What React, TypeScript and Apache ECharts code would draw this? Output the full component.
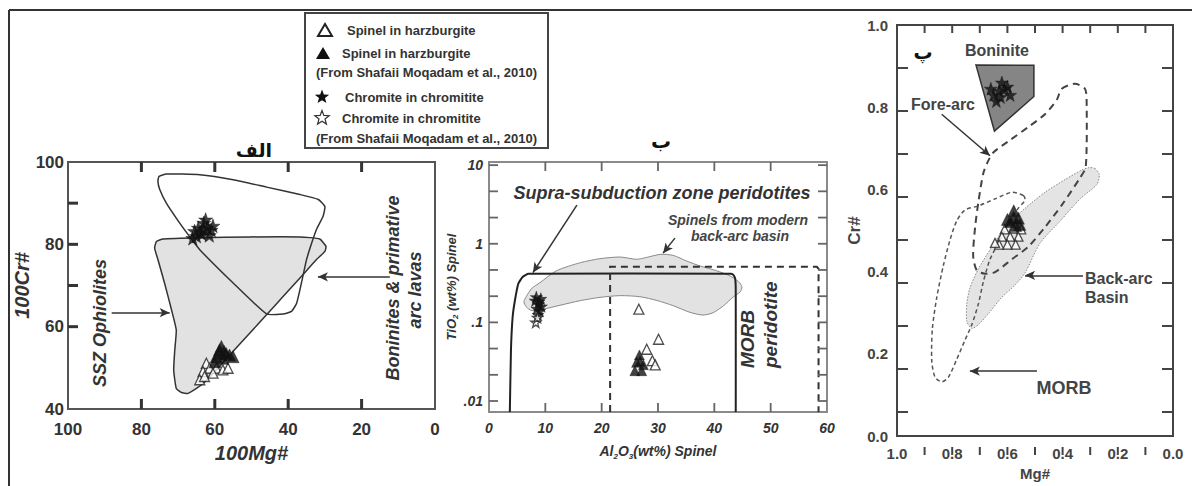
import React, { useEffect, useRef } from "react";
import * as echarts from "echarts";

// ---------- Panel 1 (الف): 100Cr# vs 100Mg# ----------
const P1_SSZ_FIELD = [[75.9,80.7],[74.1,81.3],[64.1,81.6],[50.5,81.8],[36.8,81.8],[31.4,81.3],[29.7,79.5],[30.0,78.3],[32.3,76.3],[36.8,71.8],[41.4,67.3],[45.9,62.9],[50.5,58.4],[55.0,54.0],[59.6,49.5],[63.2,46.2],[65.0,45.0],[67.3,43.8],[69.1,44.0],[70.5,45.0],[71.2,49.5],[70.9,54.4],[70.5,59.2],[71.8,64.1],[73.7,70.6],[75.5,76.3],[76.4,79.1]];
const P1_BONINITE_FIELD = [[75.2,96.5],[73.2,97.1],[64.1,96.9],[55.0,95.7],[45.9,93.9],[36.8,92.1],[31.8,90.9],[30.0,89.2],[30.5,86.8],[32.3,83.6],[33.6,80.3],[35.0,76.3],[36.4,70.6],[37.7,65.7],[39.1,63.7],[41.4,63.1],[45.9,63.1],[55.0,70.6],[64.1,78.7],[66.8,81.8],[69.6,85.2],[73.2,90.0],[75.0,93.3],[75.5,95.3]];
const P1_CHROMITE = [[64,83],[62,84],[65,82],[63,85.2],[61,83.5],[66,81.5],[63.5,82.5],[60.5,84.5],[62.5,86],[64.5,84],[61.5,82.2],[63,83.8],[65.5,83.2]];
const P1_SPINEL_SM = [[58.7,54.4],[56.9,53.5],[59.6,52.7],[57.8,52.3],[56,53.1],[58.2,55.2],[55,52.7],[60,51.5],[57.5,54],[59,53.5]];
const P1_SPINEL = [[62.3,51.1],[61.4,49.9],[63.2,49.1],[59.6,49.9],[57.8,49.5],[60.5,48.7],[64.1,47.1],[62.8,47.9],[56.4,49.9]];
const P1_ARROWS = [[[88.1,63.4],[72.3,63.4]],[[12.3,72.1],[31.9,72.1]]];
const P1_X_TICKS = [80, 60, 40, 20];
const P1_Y_TICKS = [60, 70, 80, 90];

// ---------- Panel 2 (ب): TiO2 vs Al2O3 (log y) ----------
const P2_SSZ_LINE = [[3.7,0.00725],[3.9,0.045],[4.2,0.118],[4.6,0.19],[5.2,0.31],[6.0,0.38],[7.0,0.415],[43.0,0.415],[43.4,0.40],[43.7,0.36],[43.8,0.26],[43.8,0.00725]];
const P2_BACKARC_FIELD = [[6.6,0.212],[7.6,0.271],[9.05,0.32],[12.0,0.454],[16.2,0.574],[19.7,0.646],[23.3,0.678],[26.2,0.634],[28.0,0.671],[30.4,0.733],[32.7,0.711],[35.1,0.602],[37.5,0.521],[40.4,0.454],[42.8,0.389],[44.3,0.329],[44.9,0.284],[44.6,0.245],[43.4,0.212],[41.6,0.162],[39.8,0.133],[38.0,0.124],[35.7,0.134],[32.7,0.163],[29.8,0.19],[26.8,0.212],[23.3,0.219],[19.7,0.208],[16.2,0.189],[12.6,0.165],[9.6,0.147],[7.6,0.141],[6.6,0.158],[6.2,0.183]];
const P2_MORB_BOX = [[21.5,0.00725],[21.5,0.51],[58.2,0.51],[58.5,0.48],[58.5,0.00725]];
const P2_CHROMITE = [[8.2,0.19],[8.8,0.17],[9.2,0.2],[8.5,0.15],[9.0,0.14],[8.4,0.21],[9.3,0.16],[8.7,0.125],[8.9,0.185]];
const P2_CHROMITE_SM = [[8.3,0.1],[8.6,0.115]];
const P2_SPINEL = [[26.6,0.147],[30.1,0.061],[28.0,0.0455],[29.0,0.0326],[29.5,0.0288]];
const P2_SPINEL_SM = [[26.7,0.0385],[26.8,0.032],[27.1,0.0243],[26.2,0.031],[27.4,0.029],[25.9,0.0243]];
const P2_ARROWS = [[[15.6,3.1],[7.8,0.43]],[[33.0,1.18],[30.9,0.76]]];
const P2_X_TICKS = [10, 20, 30, 40, 50];
const P2_LOG_TICKS = [-2, -1.667, -1.333, -1, -0.667, -0.333, 0, 0.333, 0.667, 1];
const P2_LOG_LABELS = [-2, -1, 0, 1];
const P2_LABEL_TEXT: Record<string, string> = { "-2": ".01", "-1": ".1", "0": "1", "1": "10" };

// ---------- Panel 3 (پ): Cr# vs Mg# ----------
const P3_BONINITE_FIELD = [[0.714,0.903],[0.504,0.902],[0.504,0.826],[0.647,0.742]];
const P3_FOREARC_FIELD = [[0.403,0.845],[0.355,0.857],[0.319,0.845],[0.313,0.818],[0.316,0.655],[0.337,0.628],[0.403,0.562],[0.464,0.508],[0.524,0.461],[0.584,0.430],[0.645,0.399],[0.681,0.395],[0.711,0.403],[0.724,0.438],[0.717,0.508],[0.705,0.570],[0.687,0.640],[0.669,0.670],[0.651,0.690],[0.597,0.717],[0.524,0.752],[0.464,0.783],[0.421,0.818]];
const P3_MORB_FIELD = [[0.542,0.585],[0.584,0.593],[0.645,0.577],[0.705,0.560],[0.754,0.550],[0.784,0.523],[0.808,0.477],[0.832,0.415],[0.856,0.337],[0.872,0.260],[0.874,0.182],[0.862,0.143],[0.838,0.132],[0.814,0.143],[0.784,0.186],[0.754,0.233],[0.729,0.271],[0.705,0.322],[0.687,0.376],[0.663,0.430],[0.633,0.469],[0.597,0.516],[0.561,0.554],[0.536,0.574]];
const P3_BACKARC_FIELD = [[0.283,0.651],[0.267,0.636],[0.276,0.612],[0.337,0.577],[0.409,0.523],[0.482,0.469],[0.536,0.397],[0.572,0.368],[0.621,0.337],[0.669,0.298],[0.705,0.271],[0.729,0.262],[0.747,0.279],[0.747,0.322],[0.736,0.360],[0.705,0.407],[0.663,0.453],[0.609,0.508],[0.536,0.554],[0.464,0.593],[0.391,0.624],[0.331,0.647],[0.305,0.653]];
const P3_CHROMITE = [[0.63,0.84],[0.60,0.85],[0.65,0.83],[0.62,0.86],[0.59,0.83],[0.64,0.815],[0.61,0.845],[0.66,0.845],[0.625,0.825]];
const P3_SPINEL_SM = [[0.577,0.548],[0.56,0.53],[0.59,0.522],[0.555,0.515],[0.60,0.527],[0.57,0.512],[0.578,0.532]];
const P3_SPINEL = [[0.55,0.503],[0.58,0.505],[0.61,0.503],[0.56,0.485],[0.59,0.485],[0.62,0.485],[0.57,0.466],[0.60,0.466],[0.63,0.466],[0.645,0.47]];
const P3_ARROWS = [[[0.838,0.783],[0.663,0.682]],[[0.326,0.391],[0.536,0.391]],[[0.493,0.158],[0.736,0.158]]];
const P3_TICKS = [0.1, 0.2, 0.3, 0.4, 0.5, 0.6, 0.7, 0.8, 0.9];

const FONT = "'Liberation Sans', Arial, Helvetica, sans-serif";
const STAR = "path://M50,0 L61.8,35.1 L97.6,34.5 L69,56.2 L79.4,90.5 L50,70 L20.6,90.5 L31,56.2 L2.4,34.5 L38.2,35.1 Z";

const lg = (pts: number[][]) => pts.map(([x, y]) => [x, Math.log10(y)]);

// grid boxes and axis ranges
const GRIDS = [
  { left: 68, top: 162, width: 367, height: 247, x: [0, 100], y: [40, 100], xInv: true, border: "#555" },
  { left: 489, top: 162, width: 338, height: 250, x: [0, 60], y: [-2.14, 1.04], xInv: false, border: "#8a8a8a" },
  { left: 897, top: 25, width: 276, height: 430, x: [0, 1], y: [0, 1], xInv: true, border: "#444" },
];

// tick specs: [gridIndex, values, side, length px, width, color]
const TICK_SPECS: any[] = [
  [0, P1_X_TICKS, "b", 10, 3, "#333"],
  [0, P1_X_TICKS, "t", 10, 3, "#333"],
  [0, P1_Y_TICKS, "l", 10, 3, "#333"],
  [1, P2_X_TICKS, "b", 9, 1.8, "#666"],
  [1, P2_X_TICKS, "t", 9, 1.8, "#666"],
  [1, P2_LOG_TICKS, "l", 9, 1.8, "#666"],
  [1, P2_LOG_TICKS, "r", 9, 1.8, "#666"],
  [2, P3_TICKS, "b", 8, 2, "#444"],
  [2, P3_TICKS, "t", 8, 2, "#444"],
  [2, P3_TICKS, "l", 11, 2, "#444"],
  [2, P3_TICKS, "r", 11, 2, "#444"],
];

function shape(points: number[][], gi: number, o: any) {
  return {
    type: "custom",
    xAxisIndex: gi,
    yAxisIndex: gi,
    z: o.z ?? 1,
    silent: true,
    data: [points[0]],
    renderItem: (_p: any, api: any) => ({
      type: o.closed ? "polygon" : "polyline",
      shape: { points: points.map((p) => api.coord(p)), smooth: o.smooth ?? 0 },
      style: {
        fill: o.fill ?? "none",
        stroke: o.stroke ?? "#333",
        lineWidth: o.lineWidth ?? 1.5,
        lineDash: o.lineDash,
      },
    }),
  };
}

function scatter(data: number[][], gi: number, kind: string, size: number) {
  const filled = kind === "ftri" || kind === "fstar";
  const star = kind === "fstar" || kind === "ostar";
  return {
    type: "scatter",
    xAxisIndex: gi,
    yAxisIndex: gi,
    z: 5,
    silent: true,
    symbol: star ? STAR : "triangle",
    symbolSize: size,
    data,
    itemStyle: filled
      ? { color: "#111", borderColor: "#111", borderWidth: 0.5 }
      : { color: "#fff", borderColor: "#222", borderWidth: 1.3 },
  };
}

function arrows(lines: number[][][], gi: number) {
  return {
    type: "scatter",
    xAxisIndex: gi,
    yAxisIndex: gi,
    data: [],
    z: 6,
    markLine: {
      silent: true,
      symbol: ["none", "arrow"],
      symbolSize: [7, 10],
      label: { show: false },
      lineStyle: { color: "#333", width: 1.5, type: "solid" },
      data: lines.map(([a, b]) => [{ coord: a }, { coord: b }]),
    },
  };
}

// pixel position of an axis value along a grid (linear axis, same mapping as the axes above)
function axisPx(g: any, dim: "x" | "y", v: number) {
  const r = dim === "x" ? g.x : g.y;
  const t = (v - r[0]) / (r[1] - r[0]);
  if (dim === "x") return g.xInv ? g.left + g.width * (1 - t) : g.left + g.width * t;
  return g.top + g.height * (1 - t);
}

function tickGraphics() {
  const els: any[] = [];
  TICK_SPECS.forEach(([gi, values, side, len, width, color]) => {
    const g = GRIDS[gi];
    values.forEach((v: number) => {
      let x1, y1, x2, y2;
      if (side === "b" || side === "t") {
        x1 = x2 = axisPx(g, "x", v);
        y1 = side === "b" ? g.top + g.height : g.top;
        y2 = side === "b" ? y1 - len : y1 + len;
      } else {
        y1 = y2 = axisPx(g, "y", v);
        x1 = side === "l" ? g.left : g.left + g.width;
        x2 = side === "l" ? x1 + len : x1 - len;
      }
      els.push({
        type: "rect",
        z: 30,
        silent: true,
        shape: {
          x: Math.min(x1, x2) - (x1 === x2 ? width / 2 : 0),
          y: Math.min(y1, y2) - (y1 === y2 ? width / 2 : 0),
          width: x1 === x2 ? width : Math.abs(x2 - x1),
          height: y1 === y2 ? width : Math.abs(y2 - y1),
        },
        style: { fill: color },
      });
    });
  });
  return els;
}

function starPts(cx: number, cy: number, r: number) {
  const pts: number[][] = [];
  for (let i = 0; i < 10; i++) {
    const rr = i % 2 === 0 ? r : r * 0.42;
    const ang = -Math.PI / 2 + (i * Math.PI) / 5;
    pts.push([cx + rr * Math.cos(ang), cy + rr * Math.sin(ang)]);
  }
  return pts;
}

const txt = (x: number, y: number, text: string, s: any = {}, rotation = 0) => ({
  type: "text",
  x,
  y,
  rotation,
  z: 20,
  style: {
    text,
    fontFamily: FONT,
    fontSize: 13,
    fontWeight: "bold",
    fill: "#333",
    align: "center",
    verticalAlign: "middle",
    ...s,
  },
});

function buildOption() {
  const base = {
    type: "value",
    axisLine: { show: false, onZero: false },
    axisTick: { show: false },
    splitLine: { show: false },
  };

  const p1Label = { fontFamily: FONT, fontSize: 17, fontWeight: "bold", color: "#333" };
  const p2Label = { fontFamily: FONT, fontSize: 14, fontWeight: "bold", fontStyle: "italic", color: "#333" };
  const p3Label = { fontFamily: FONT, fontSize: 15, fontWeight: "bold", color: "#444" };
  const f1 = (v: number) => (Math.round(v * 10) % 2 === 0 ? v.toFixed(1) : "");

  const xAxis = [
    {
      ...base, gridIndex: 0, min: GRIDS[0].x[0], max: GRIDS[0].x[1], interval: 20, inverse: true, position: "bottom",
      axisLabel: { ...p1Label, margin: 12, showMinLabel: true, showMaxLabel: true },
      name: "100Mg#", nameLocation: "middle", nameGap: 31,
      nameTextStyle: { fontFamily: FONT, fontSize: 20, fontWeight: "bold", fontStyle: "italic", color: "#333" },
    },
    {
      ...base, gridIndex: 1, min: GRIDS[1].x[0], max: GRIDS[1].x[1], interval: 10, position: "bottom",
      axisLabel: { ...p2Label, margin: 9, showMinLabel: true, showMaxLabel: true },
      name: "Al{s|2}O{s|3}(wt%) Spinel", nameLocation: "middle", nameGap: 30,
      nameTextStyle: {
        fontFamily: FONT, fontSize: 14, fontWeight: "bold", fontStyle: "italic", color: "#333", lineHeight: 18,
        rich: { s: { fontFamily: FONT, fontSize: 8, fontWeight: "bold", color: "#333", lineHeight: 9, verticalAlign: "bottom" } },
      },
    },
    {
      ...base, gridIndex: 2, min: GRIDS[2].x[0], max: GRIDS[2].x[1], interval: 0.1, inverse: true, position: "bottom",
      axisLabel: { ...p3Label, margin: 10, formatter: f1, showMinLabel: true, showMaxLabel: true },
      name: "Mg#", nameLocation: "middle", nameGap: 23,
      nameTextStyle: { fontFamily: FONT, fontSize: 15, fontWeight: "bold", color: "#444" },
    },
  ];

  const yAxis = [
    {
      ...base, gridIndex: 0, min: GRIDS[0].y[0], max: GRIDS[0].y[1], interval: 10, position: "left",
      axisLabel: { ...p1Label, margin: 4, formatter: (v: number) => (v % 20 === 0 ? String(v) : "") },
      name: "100Cr#", nameLocation: "middle", nameGap: 31,
      nameTextStyle: { fontFamily: FONT, fontSize: 20, fontWeight: "bold", fontStyle: "italic", color: "#333" },
    },
    {
      ...base, gridIndex: 1, min: GRIDS[1].y[0], max: GRIDS[1].y[1], position: "left",
      axisLabel: { ...p2Label, margin: 6, customValues: P2_LOG_LABELS, formatter: (v: number) => P2_LABEL_TEXT[String(Math.round(v))] ?? "" },
      name: "TiO{s|2} (wt%) Spinel", nameLocation: "middle", nameGap: 26,
      nameTextStyle: {
        fontFamily: FONT, fontSize: 13, fontWeight: "bold", fontStyle: "italic", color: "#333", lineHeight: 17,
        rich: { s: { fontFamily: FONT, fontSize: 8, fontWeight: "bold", color: "#333", lineHeight: 8, verticalAlign: "bottom" } },
      },
    },
    {
      ...base, gridIndex: 2, min: GRIDS[2].y[0], max: GRIDS[2].y[1], interval: 0.1, position: "left",
      axisLabel: { ...p3Label, margin: 9, formatter: f1 },
      name: "Cr#", nameLocation: "middle", nameGap: 26,
      nameTextStyle: { fontFamily: FONT, fontSize: 17, fontWeight: "bold", color: "#444" },
    },
  ];

  const series: any[] = [
    // panel 1
    shape(P1_SSZ_FIELD, 0, { closed: true, fill: "#e2e2e2", stroke: "#333", lineWidth: 1.5, smooth: 0.15, z: 1 }),
    shape(P1_BONINITE_FIELD, 0, { closed: true, stroke: "#333", lineWidth: 1.5, smooth: 0.15, z: 2 }),
    scatter(P1_SPINEL, 0, "otri", 10),
    scatter(P1_SPINEL_SM, 0, "ftri", 12),
    scatter(P1_CHROMITE, 0, "fstar", 14),
    arrows(P1_ARROWS, 0),
    // panel 2
    shape(lg(P2_BACKARC_FIELD), 1, { closed: true, fill: "#e2e2e2", stroke: "#8a8a8a", lineWidth: 1, smooth: 0.25, z: 1 }),
    shape(lg(P2_SSZ_LINE), 1, { closed: false, stroke: "#222", lineWidth: 2, smooth: 0.15, z: 2 }),
    shape(lg(P2_MORB_BOX), 1, { closed: false, stroke: "#333", lineWidth: 2, lineDash: [7, 5], z: 2 }),
    scatter(lg(P2_SPINEL), 1, "otri", 10),
    scatter(lg(P2_SPINEL_SM), 1, "ftri", 10),
    scatter(lg(P2_CHROMITE), 1, "fstar", 12),
    scatter(lg(P2_CHROMITE_SM), 1, "ostar", 10),
    arrows(P2_ARROWS.map((l) => lg(l)), 1),
    // panel 3
    shape(P3_BACKARC_FIELD, 2, { closed: true, fill: "#e4e4e4", stroke: "#888", lineWidth: 1, lineDash: [1.5, 1.5], smooth: 0.25, z: 1 }),
    shape(P3_BONINITE_FIELD, 2, { closed: true, fill: "#858585", stroke: "#333", lineWidth: 1.5, z: 1 }),
    shape(P3_FOREARC_FIELD, 2, { closed: true, stroke: "#444", lineWidth: 2, lineDash: [7, 5], smooth: 0.25, z: 2 }),
    shape(P3_MORB_FIELD, 2, { closed: true, stroke: "#555", lineWidth: 1.5, lineDash: [4, 3], smooth: 0.25, z: 2 }),
    scatter(P3_SPINEL, 2, "otri", 9),
    scatter(P3_SPINEL_SM, 2, "ftri", 12),
    scatter(P3_CHROMITE, 2, "fstar", 13),
    arrows(P3_ARROWS, 2),
  ];

  const AR = "'DejaVu Sans', 'Noto Sans', sans-serif";
  const graphic: any[] = [
    // outer frame
    { type: "line", z: 0, shape: { x1: 9, y1: 10, x2: 1192, y2: 10 }, style: { stroke: "#333", lineWidth: 2 } },
    { type: "line", z: 0, shape: { x1: 9, y1: 10, x2: 9, y2: 486 }, style: { stroke: "#333", lineWidth: 2 } },
    // legend box
    { type: "rect", z: 10, shape: { x: 305, y: 13, width: 243, height: 135 }, style: { fill: "#fff", stroke: "#444", lineWidth: 2 } },
    { type: "polygon", z: 11, shape: { points: [[325, 24], [318, 36], [332, 36]] }, style: { fill: "#fff", stroke: "#222", lineWidth: 2 } },
    { type: "polygon", z: 11, shape: { points: [[323, 47], [316, 59], [330, 59]] }, style: { fill: "#111" } },
    { type: "polygon", z: 11, shape: { points: starPts(322, 97, 7.5) }, style: { fill: "#111" } },
    { type: "polygon", z: 11, shape: { points: starPts(322, 118, 7.5) }, style: { fill: "#fff", stroke: "#333", lineWidth: 1.2 } },
    txt(347, 30, "Spinel in harzburgite", { align: "left" }),
    txt(342, 53, "Spinel in harzburgite", { align: "left" }),
    txt(316, 72, "(From Shafaii Moqadam et al., 2010)", { align: "left" }),
    txt(345, 97, "Chromite in chromitite", { align: "left" }),
    txt(342, 118, "Chromite in chromitite", { align: "left" }),
    txt(316, 138, "(From Shafaii Moqadam et al., 2010)", { align: "left" }),
    // panel titles
    txt(254, 150, "الف", { fontFamily: AR, fontSize: 19, fill: "#111" }),
    txt(661, 141, "ب", { fontFamily: AR, fontSize: 20, fill: "#111" }),
    txt(923, 52, "پ", { fontFamily: AR, fontSize: 19, fill: "#111", backgroundColor: "#fff", padding: [6, 4, 6, 4] }),
    // panel 1 annotations
    txt(100, 323, "SSZ Ophiolites", { fontSize: 18, fontStyle: "italic" }, Math.PI / 2),
    txt(393, 288, "Boninites & primative", { fontSize: 18, fontStyle: "italic" }, Math.PI / 2),
    txt(415, 290, "arc lavas", { fontSize: 18, fontStyle: "italic" }, Math.PI / 2),
    // panel 2 annotations
    txt(662, 193, "Supra-subduction zone peridotites", { fontSize: 18, fontStyle: "italic" }),
    txt(738, 220, "Spinels from modern", { fontSize: 14, fontStyle: "italic", fill: "#444" }),
    txt(740, 236, "back-arc basin", { fontSize: 14, fontStyle: "italic", fill: "#444" }),
    txt(747, 368, "MORB", { fontSize: 19, fontStyle: "italic", align: "left" }, Math.PI / 2),
    txt(770, 368, "peridotite", { fontSize: 19, fontStyle: "italic", align: "left" }, Math.PI / 2),
    // panel 3 annotations
    txt(997, 50, "Boninite", { fontSize: 16, fill: "#444" }),
    txt(943, 104, "Fore-arc", { fontSize: 16, fill: "#444", backgroundColor: "#fff" }),
    txt(1085, 278, "Back-arc", { fontSize: 16, fill: "#444", align: "left" }),
    txt(1085, 297, "Basin", { fontSize: 16, fill: "#444", align: "left" }),
    txt(1064, 388, "MORB", { fontSize: 18, fill: "#444" }),
    // inward tick marks
    ...tickGraphics(),
  ];

  return {
    animation: false,
    backgroundColor: "#fff",
    grid: GRIDS.map((g) => ({
      left: g.left, top: g.top, width: g.width, height: g.height,
      show: true, borderColor: g.border, borderWidth: 2, backgroundColor: "transparent",
    })),
    xAxis,
    yAxis,
    series,
    graphic: { elements: graphic },
  };
}

export default function App() {
  const ref = useRef<HTMLDivElement>(null);
  useEffect(() => {
    if (!ref.current) return;
    const chart = echarts.init(ref.current, undefined, { renderer: "svg" });
    chart.setOption(buildOption() as any);
    return () => chart.dispose();
  }, []);
  return (
    <div
      ref={ref}
      style={{ position: "absolute", left: 0, top: 0, width: 1192, height: 486, background: "#fff" }}
    />
  );
}
